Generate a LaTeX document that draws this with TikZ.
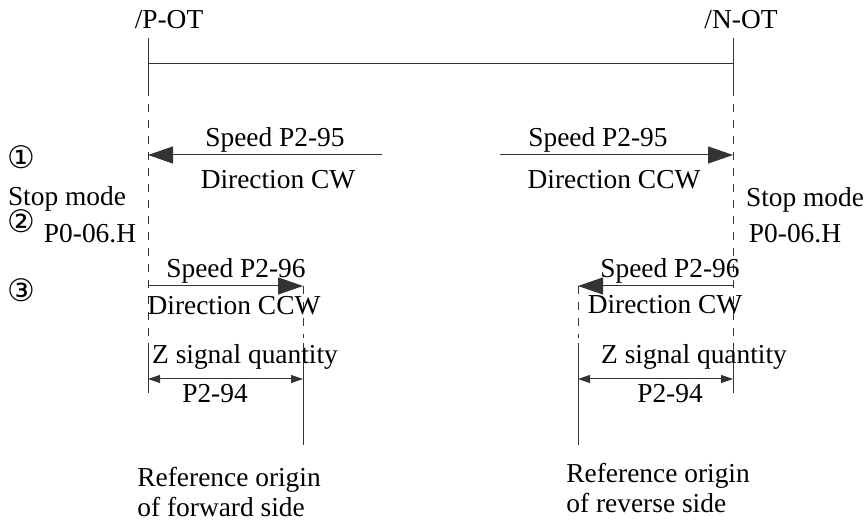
\documentclass[tikz,border=0pt]{standalone}
\usepackage{fontspec}
\setmainfont{Liberation Serif}
\newfontfamily\symfont{DejaVu Sans}
\usetikzlibrary{arrows.meta}
\begin{document}
\begin{tikzpicture}[x=0.5pt,y=-0.5pt,
  every node/.style={inner sep=0pt,font=\fontsize{13.7pt}{15pt}\selectfont},
  ln/.style={line width=0.5pt,draw=black!80},
  dsh/.style={ln,dash pattern=on 4pt off 4pt},
  bigarrow/.style={ln,-{Triangle[length=12.5pt,width=8.5pt]}},
  dimarrow/.style={ln,{Triangle[length=6pt,width=4pt]}-{Triangle[length=6pt,width=4pt]}},
  circ/.style={font=\symfont\fontsize{15.5pt}{17pt}\selectfont}]
\useasboundingbox (0,0) rectangle (866,522);
% limit switch lines
\coordinate (LT) at (148,38);
\coordinate (LB) at (148,88);
\coordinate (LD) at (148,338);
\coordinate (LS) at (148,343);
\coordinate (LE) at (148,393);
\coordinate (RT) at (733,38);
\coordinate (RB) at (733,88);
\coordinate (RD) at (733,338);
\coordinate (RS) at (733,343);
\coordinate (RE) at (733,393);
\coordinate (HL) at (148,64);
\coordinate (HR) at (733,64);
\draw[ln] (LT) -- (LB);
\draw[dsh] (LB) -- (LD);
\draw[ln] (LS) -- (LE);
\draw[ln] (RT) -- (RB);
\draw[dsh] (RB) -- (RD);
\draw[ln] (RS) -- (RE);
\draw[ln] (HL) -- (HR);
% origin lines
\coordinate (FT) at (303,286);
\coordinate (FD) at (303,338);
\coordinate (FS) at (303,343);
\coordinate (FE) at (303,445);
\coordinate (BT) at (578,286);
\coordinate (BD) at (578,338);
\coordinate (BS) at (578,343);
\coordinate (BE) at (578,445);
\draw[dsh] (FT) -- (FD);
\draw[ln] (FS) -- (FE);
\draw[dsh] (BT) -- (BD);
\draw[ln] (BS) -- (BE);
% labels top
\node (pot) at (169,20) {/P-OT};
\node (not) at (741,20) {/N-OT};
% step 1 arrows
\coordinate (A1s) at (382,155);
\coordinate (A1e) at (148,155);
\coordinate (A2s) at (500,155);
\coordinate (A2e) at (733,155);
\draw[bigarrow] (A1s) -- (A1e);
\draw[bigarrow] (A2s) -- (A2e);
\node (s1) at (275,140) {Speed P2-95};
\node (d1) at (278,180) {Direction CW};
\node (s2) at (598,140) {Speed P2-95};
\node (d2) at (614,180) {Direction CCW};
% circled numbers and stop mode
\node[circ] (n1) at (21,157) {①};
\node (stopL) at (67,199) {Stop mode};
\node[circ] (n2) at (21,221) {②};
\node (parL) at (90,234) {P0-06.H};
\node[circ] (n3) at (21,290) {③};
\node (stopR) at (805,200) {Stop mode};
\node (parR) at (795,234) {P0-06.H};
% step 3 arrows
\coordinate (A3s) at (148,286);
\coordinate (A3e) at (303,286);
\coordinate (A4s) at (733,286);
\coordinate (A4e) at (578,286);
\draw[bigarrow] (A3s) -- (A3e);
\draw[bigarrow] (A4s) -- (A4e);
\node (s3) at (236,271) {Speed P2-96};
\node (d3) at (234,306) {Direction CCW};
\node (s4) at (670,271) {Speed P2-96};
\node (d4) at (665,305) {Direction CW};
% Z signal quantity
\coordinate (Z1a) at (148,379);
\coordinate (Z1b) at (303,379);
\coordinate (Z2a) at (578,379);
\coordinate (Z2b) at (733,379);
\draw[dimarrow] (Z1a) -- (Z1b);
\draw[dimarrow] (Z2a) -- (Z2b);
\node (z1) at (245,357) {Z signal quantity};
\node (p1) at (215,394) {P2-94};
\node (z2) at (694,357) {Z signal quantity};
\node (p2) at (670,394) {P2-94};
% reference origins
\node[align=left,anchor=west] (r1) at (137,492) {Reference origin\\of forward side};
\node[align=left,anchor=west] (r2) at (566,488) {Reference origin\\of reverse side};
\end{tikzpicture}
\end{document}
